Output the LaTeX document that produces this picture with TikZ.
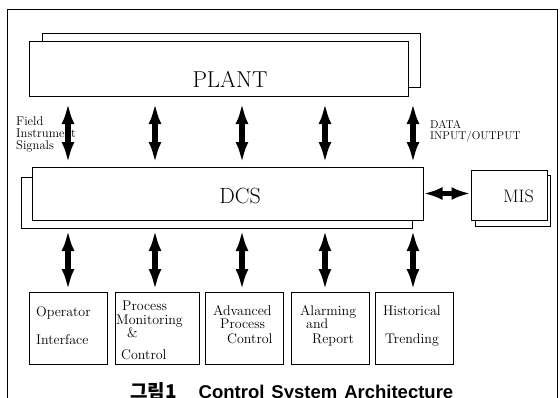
\documentclass[tikz,border=0pt]{standalone}
\usepackage{fontspec}
\newfontfamily\capsans{Liberation Sans}
\newfontfamily\krfont{Noto Sans CJK KR}
\usetikzlibrary{arrows.meta}
\begin{document}
\lineskiplimit=-20pt
\begin{tikzpicture}[x=1pt,y=-1pt,
  frame/.style={draw=black, line width=1pt},
  box/.style={draw=black, line width=0.9pt, fill=white, inner sep=0pt, outer sep=0pt, rectangle},
  dbl/.style={line width=5.5pt, {Latex[length=21pt,width=13pt]}-{Latex[length=21pt,width=13pt]}},
  hdbl/.style={line width=5pt, {Latex[length=19pt,width=13pt]}-{Latex[length=19pt,width=13pt]}},
  big/.style={inner sep=0pt, anchor=base},
  lbl/.style={inner sep=0pt, align=left, anchor=north west, font=\fontsize{14}{12}\selectfont},
  side/.style={inner sep=0pt, align=left, anchor=north west}]
\useasboundingbox (0,0) rectangle (560,397);
% outer frame
\draw[frame] (7,440) -- (7,9) -- (557,9) -- (557,440);
% PLANT
\node[box, minimum width=378pt, minimum height=54pt] (plantback) at (231,60) {};
\node[box, minimum width=379pt, minimum height=55pt] (plant) at (218.5,68.5) {};
\node[big, font=\fontsize{23}{23}\selectfont] (plantlbl) at (230,87) {PLANT};
% DCS
\node[box, minimum width=391pt, minimum height=51pt] (dcsback) at (216.5,202.5) {};
\node[box, minimum width=391pt, minimum height=53pt] (dcs) at (227.5,193.5) {};
\node[big, font=\fontsize{22}{22}\selectfont] (dcslbl) at (240,203) {DCS};
% MIS
\node[box, minimum width=75pt, minimum height=51pt] (misback) at (512.5,200.5) {};
\node[box, minimum width=76pt, minimum height=50pt] (mis) at (509,195) {};
\node[big, font=\fontsize{18}{18}\selectfont] (mislbl) at (518.5,202) {MIS};
% bottom boxes
\node[box, minimum width=78pt, minimum height=72pt] (b1) at (68,328) {};
\node[box, minimum width=84pt, minimum height=72pt] (b2) at (157,328) {};
\node[box, minimum width=78pt, minimum height=72pt] (b3) at (244,328) {};
\node[box, minimum width=78pt, minimum height=72pt] (b4) at (330,328) {};
\node[box, minimum width=78pt, minimum height=72pt] (b5) at (414,328) {};
\node[lbl] (t1) at (36,306.3) {Operator\\[16pt]Interface};
\node[lbl] (t2) at (116,300.3) {\hspace*{6pt}Process\\[2pt]Monitoring\\[1pt]\hspace*{11pt}\&\\[10pt]\hspace*{5pt}Control};
\node[lbl] (t3) at (213,305.3) {Advanced\\[1pt]\hspace*{7pt}Process\\[3pt]\hspace*{14pt}Control};
\node[lbl] (t4) at (300,305.3) {Alarming\\[1pt]\hspace*{6pt}and\\[3pt]\hspace*{12pt}Report};
\node[lbl] (t5) at (383,305.3) {Historical\\[16pt]\hspace*{2pt}Trending};
% side labels
\node[side, font=\fontsize{12.6}{11.8}\selectfont] (fieldlbl) at (16,116.5) {Field\\Instrument\\Signals};
\node[side, font=\fontsize{11.3}{10.8}\selectfont] (datalbl) at (430,120.5) {DATA\\INPUT/OUTPUT};
% arrow positions
\coordinate (c1) at (68,0);
\coordinate (c2) at (155,0);
\coordinate (c3) at (242,0);
\coordinate (c4) at (325,0);
\coordinate (c5) at (413,0);
% PLANT <-> DCS
\foreach \c in {c1,c2,c3,c4,c5}
  \draw[dbl, shorten <=7pt, shorten >=4pt] (plant.south -| \c) -- (dcs.north -| \c);
% DCS <-> function boxes
\draw[dbl, shorten <=2pt, shorten >=2pt] (dcsback.south -| c1) -- (b1.north -| c1);
\draw[dbl, shorten <=2pt, shorten >=2pt] (dcsback.south -| c2) -- (b2.north -| c2);
\draw[dbl, shorten <=2pt, shorten >=2pt] (dcsback.south -| c3) -- (b3.north -| c3);
\draw[dbl, shorten <=2pt, shorten >=2pt] (dcsback.south -| c4) -- (b4.north -| c4);
\draw[dbl, shorten <=2pt, shorten >=2pt] (dcsback.south -| c5) -- (b5.north -| c5);
% DCS <-> MIS
\draw[hdbl, shorten <=0.5pt, shorten >=0.5pt] (dcs.east) -- (mis.west |- dcs.east);
% caption
\node[inner sep=0pt, anchor=base west] (caption) at (130,398) {\krfont\bfseries\fontsize{19}{19}\selectfont 그림1\hspace{22pt}\capsans\bfseries\fontsize{18.5}{18.5}\selectfont\spaceskip=7pt Control System Architecture};
\end{tikzpicture}
\end{document}
